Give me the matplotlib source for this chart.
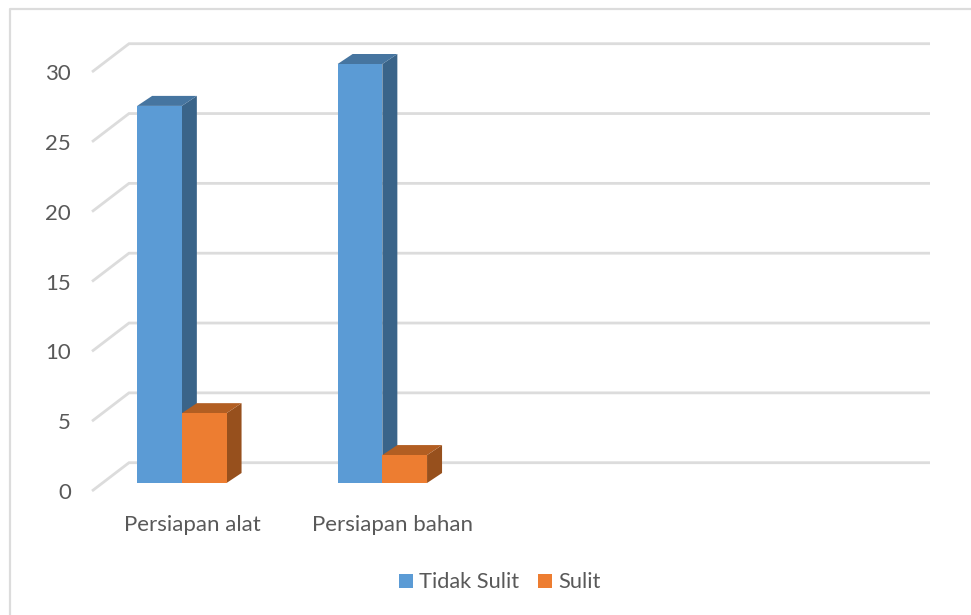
import matplotlib
matplotlib.use('Agg')
import matplotlib.pyplot as plt
from matplotlib.patches import Polygon, Rectangle
from matplotlib.lines import Line2D

W, H = 971, 615

# data
categories = ['Persiapan alat', 'Persiapan bahan']
tidak_sulit = [27, 30]
sulit = [5, 2]
y_ticks = [0, 5, 10, 15, 20, 25, 30]
series_names = ['Tidak Sulit', 'Sulit']

plt.rcParams['font.family'] = ['Lato', 'DejaVu Sans']
TEXT = '#595959'
GRID = '#dcdcdc'

fig = plt.figure(figsize=(W / 100, H / 100), dpi=100)

# front plane of the fake 3d box, in pixels
left, right, bottom, top = 92, 894, 491, 72
ax = fig.add_axes([left / W, 1 - bottom / H, (right - left) / W, (bottom - top) / H])
ax.set_xlim(-0.5, 3.5)
ax.set_ylim(0, 30)
ax.patch.set_visible(False)
for s in ax.spines.values():
    s.set_visible(False)

px_x = (right - left) / 4      # pixels per category
px_y = (bottom - top) / 30     # pixels per value


def dx(p):
    return p / px_x


def dy(p):
    return p / px_y


# gridlines: diagonal on the side wall, then along the back wall
for v in y_ticks:
    ax.plot([-0.5, -0.5 + dx(37), 3.5 + dx(36)], [v, v + dy(28.3), v + dy(28.3)],
            color=GRID, lw=2.0, clip_on=False, zorder=1, solid_capstyle='butt',
            solid_joinstyle='miter')

bar_w = 44.7 / px_x
shift = -10.4 / px_x
base = dy(8)
depth_x, depth_y = dx(15), dy(10)


def bar3d(x0, v, front, side, roof):
    y0, y1 = base, base + v
    x1 = x0 + bar_w
    ax.add_patch(Polygon([(x1, y0), (x1 + depth_x, y0 + depth_y), (x1 + depth_x, y1 + depth_y), (x1, y1)],
                         fc=side, ec='none', zorder=2, clip_on=False))
    ax.add_patch(Polygon([(x0, y1), (x0 + depth_x, y1 + depth_y), (x1 + depth_x, y1 + depth_y), (x1, y1)],
                         fc=roof, ec='none', zorder=2, clip_on=False))
    ax.bar(x0, v, bar_w, bottom=y0, align='edge', color=front, zorder=2, clip_on=False)


for i in range(len(categories)):
    bar3d(i + shift - bar_w, tidak_sulit[i], '#5b9bd5', '#3a6489', '#4675a0')
    bar3d(i + shift, sulit[i], '#ed7d31', '#97501d', '#b25e22')

ax.set_yticks(y_ticks)
ax.set_xticks(range(len(categories)))
ax.set_xticklabels(categories)
ax.tick_params(length=0, labelsize=16, labelcolor=TEXT)
ax.tick_params(axis='y', pad=15)
ax.tick_params(axis='x', pad=17)

# outer chart frame
fig.add_artist(Line2D([9.5 / W, 9.5 / W, 1], [0, 1 - 8.5 / H, 1 - 8.5 / H], color=GRID, lw=1.6))

# legend
fig.patches.append(Rectangle((399 / W, 1 - 588 / H), 14 / W, 14 / H, transform=fig.transFigure, fc='#5b9bd5'))
fig.patches.append(Rectangle((538 / W, 1 - 588 / H), 14 / W, 14 / H, transform=fig.transFigure, fc='#ed7d31'))
fig.text(419 / W, 1 - 581.5 / H, series_names[0], fontsize=15.7, color=TEXT, va='center')
fig.text(558 / W, 1 - 581.5 / H, series_names[1], fontsize=15.7, color=TEXT, va='center')

fig.savefig('out.png', dpi=100, facecolor='white')
